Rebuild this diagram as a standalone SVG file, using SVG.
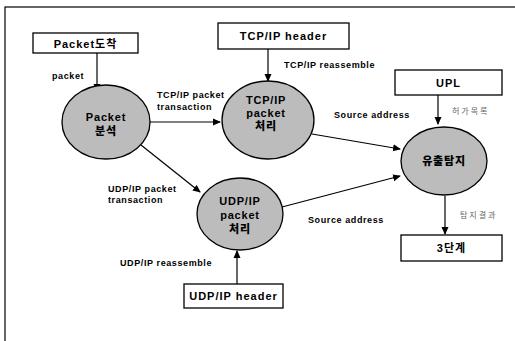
<svg xmlns="http://www.w3.org/2000/svg" width="515" height="341" viewBox="0 0 515 341">
<style>
.box{fill:#fff;stroke:#000;stroke-width:1.3}
.ell{fill:#bcbcbc;stroke:#000;stroke-width:1.3}
.ln{stroke:#000;stroke-width:1.2;fill:none;marker-end:url(#ah)}
.bt{font-family:"Liberation Sans","Noto Sans CJK KR",sans-serif;font-weight:bold;font-size:11px;letter-spacing:1px;text-anchor:middle;fill:#000}
.et{font-family:"Liberation Sans","Noto Sans CJK KR",sans-serif;font-weight:900;font-size:11px;letter-spacing:0.8px;text-anchor:middle;fill:#000}
.lt{font-family:"Liberation Sans","Noto Sans CJK KR",sans-serif;font-weight:bold;font-size:9px;letter-spacing:0.6px;fill:#000}
.st{font-family:"Noto Sans CJK KR",serif;font-size:8px;letter-spacing:2px;fill:#666}
</style>
<defs>
<marker id="ah" markerWidth="8" markerHeight="8" refX="7" refY="4" orient="auto" markerUnits="userSpaceOnUse">
<path d="M0,0.5 L8,4 L0,7.5 Z" fill="#000"/>
</marker>
</defs>
<rect x="5" y="7" width="520" height="350" fill="none" stroke="#000" stroke-width="1.2"/>
<g id="connectors">
<line class="ln" x1="97" y1="53" x2="97" y2="91"/>
<line class="ln" x1="150" y1="122" x2="220" y2="122"/>
<line class="ln" x1="268" y1="49" x2="268" y2="81"/>
<line class="ln" x1="141" y1="145" x2="200" y2="192"/>
<line class="ln" x1="312" y1="134" x2="400" y2="149"/>
<line class="ln" x1="282" y1="207" x2="400" y2="176"/>
<line class="ln" x1="438" y1="95" x2="438" y2="124"/>
<line class="ln" x1="445" y1="196" x2="445" y2="234"/>
<line class="ln" x1="237" y1="284" x2="237" y2="251"/>
</g>
<g id="lbl-packet"><text class="lt" x="52" y="79">packet</text></g>
<g id="lbl-tcptrans"><text class="lt" x="157" y="98">TCP/IP packet</text><text class="lt" x="157" y="110">transaction</text></g>
<g id="lbl-tcpreasm"><text class="lt" x="284" y="68">TCP/IP reassemble</text></g>
<g id="lbl-src1"><text class="lt" x="334" y="118">Source address</text></g>
<g id="lbl-perm"><text class="st" x="452" y="114">허가목록</text></g>
<g id="lbl-udptrans"><text class="lt" x="108" y="192">UDP/IP packet</text><text class="lt" x="108" y="203">transaction</text></g>
<g id="lbl-src2"><text class="lt" x="308" y="223">Source address</text></g>
<g id="lbl-result"><text class="st" x="460" y="218">탐지결과</text></g>
<g id="lbl-udpreasm"><text class="lt" x="120" y="266">UDP/IP reassemble</text></g>
<g id="n-arrive"><rect class="box" x="33" y="33" width="105" height="20"/><text class="bt" x="85.5" y="47.5">Packet도착</text></g>
<g id="n-tcphdr"><rect class="box" x="218" y="23" width="131" height="26"/><text class="bt" x="283.5" y="40">TCP/IP header</text></g>
<g id="n-upl"><rect class="box" x="395" y="70" width="107" height="25"/><text class="bt" x="448.5" y="86.5">UPL</text></g>
<g id="n-stage3"><rect class="box" x="401" y="235" width="101" height="26"/><text class="bt" x="451.5" y="252">3단계</text></g>
<g id="n-udphdr"><rect class="box" x="184" y="284" width="99" height="24"/><text class="bt" x="233.5" y="300">UDP/IP header</text></g>
<g id="n-analyze"><ellipse class="ell" cx="106" cy="122" rx="44" ry="37"/><text class="et" x="106" y="121">Packet</text><text class="et" x="106" y="135">분석</text></g>
<g id="n-tcp"><ellipse class="ell" cx="268" cy="120" rx="46" ry="39"/><text class="et" x="266" y="104">TCP/IP</text><text class="et" x="266" y="117">packet</text><text class="et" x="266" y="130">처리</text></g>
<g id="n-udp"><ellipse class="ell" cx="240" cy="214" rx="43" ry="36"/><text class="et" x="240" y="205">UDP/IP</text><text class="et" x="240" y="219">packet</text><text class="et" x="240" y="233">처리</text></g>
<g id="n-detect"><ellipse class="ell" cx="444" cy="161" rx="43" ry="34"/><text class="et" x="444" y="165">유출탐지</text></g>
</svg>
